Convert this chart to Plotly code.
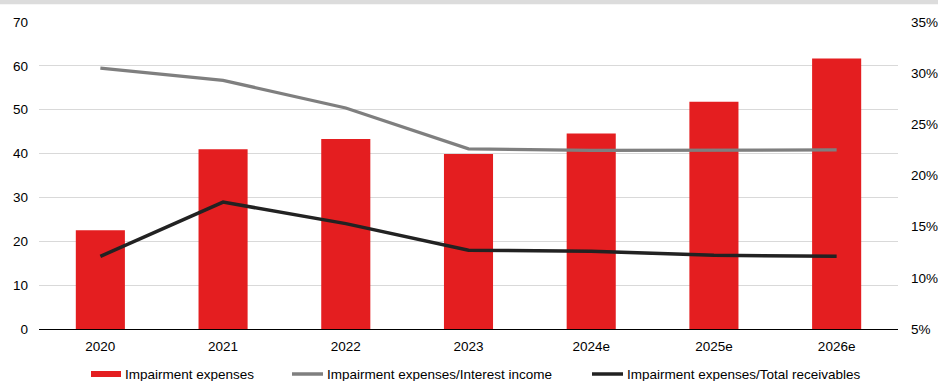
import plotly.graph_objects as go

# Data
years = ["2020", "2021", "2022", "2023", "2024e", "2025e", "2026e"]
impairment_expenses = [22.5, 41.0, 43.3, 39.9, 44.6, 51.8, 61.7]
imp_to_interest_income = [30.5, 29.3, 26.6, 22.6, 22.45, 22.45, 22.5]   # %
imp_to_total_receivables = [12.1, 17.4, 15.3, 12.7, 12.6, 12.2, 12.1]  # %

legend_names = [
    "Impairment expenses",
    "Impairment expenses/Interest income",
    "Impairment expenses/Total receivables",
]

RED = "#E41E20"
GREY = "#7F7F7F"
BLACK = "#222222"
FONT = "Liberation Sans, Arial, sans-serif"

W, H = 938, 381
ML, MR, MT, MB = 39, 40, 22, 52
PW, PH = W - ML - MR, H - MT - MB


def px_x(x):
    return (x - ML) / PW


def px_y(y):
    return (H - MB - y) / PH


fig = go.Figure()

fig.add_trace(go.Bar(
    x=years, y=impairment_expenses, name=legend_names[0],
    marker=dict(color=RED, line=dict(width=0)),
    width=0.4, showlegend=False,
))
fig.add_trace(go.Scatter(
    x=years, y=imp_to_interest_income, name=legend_names[1], yaxis="y2",
    mode="lines", line=dict(color=GREY, width=3.2), showlegend=False,
))
fig.add_trace(go.Scatter(
    x=years, y=imp_to_total_receivables, name=legend_names[2], yaxis="y2",
    mode="lines", line=dict(color=BLACK, width=3.5), showlegend=False,
))

shapes = [
    # thin grey band along the top edge
    dict(type="rect", xref="paper", yref="paper",
         x0=px_x(0), x1=px_x(W), y0=px_y(4.3), y1=px_y(0),
         fillcolor="#DCDCDC", line=dict(width=0), layer="below"),
]
annotations = []

# legend row
ly = 374
swatches = [
    (91, 121, legend_names[0], "bar", RED),
    (292, 323, legend_names[1], "line", GREY),
    (592, 623, legend_names[2], "line", BLACK),
]
for x0, x1, label, kind, col in swatches:
    if kind == "bar":
        shapes.append(dict(type="rect", xref="paper", yref="paper",
                           x0=px_x(x0), x1=px_x(x1),
                           y0=px_y(ly + 3), y1=px_y(ly - 3),
                           fillcolor=col, line=dict(width=0)))
    else:
        shapes.append(dict(type="line", xref="paper", yref="paper",
                           x0=px_x(x0), x1=px_x(x1),
                           y0=px_y(ly), y1=px_y(ly),
                           line=dict(color=col, width=3.5)))
    annotations.append(dict(
        text=label, xref="paper", yref="paper",
        x=px_x(x1 + 2), y=px_y(ly), xanchor="left", yanchor="middle",
        showarrow=False, font=dict(family=FONT, size=13.5, color="#000000"),
    ))

fig.update_layout(
    width=W, height=H,
    margin=dict(l=ML, r=MR, t=MT, b=MB, pad=0, autoexpand=False),
    paper_bgcolor="white", plot_bgcolor="white",
    font=dict(family=FONT, size=13.5, color="#000000"),
    showlegend=False,
    bargap=0.6,
    xaxis=dict(
        type="category", showgrid=False, zeroline=False, automargin=False,
        showline=True, linecolor="#000000", linewidth=1.3,
        ticks="", tickfont=dict(size=13.5), ticklabelstandoff=5,
    ),
    yaxis=dict(
        range=[0, 70], dtick=10, tick0=0, automargin=False,
        showgrid=True, gridcolor="#D9D9D9", gridwidth=1.3,
        zeroline=False, showline=False, ticks="",
        tickfont=dict(size=13.5), ticklabelstandoff=10,
    ),
    yaxis2=dict(
        range=[5, 35], dtick=5, tick0=5, overlaying="y", side="right",
        automargin=False,
        showgrid=False, zeroline=False, showline=False, ticks="",
        ticksuffix="%", tickfont=dict(size=13.5), ticklabelstandoff=12,
    ),
    shapes=shapes,
    annotations=annotations,
)

fig.write_html("out.html")
